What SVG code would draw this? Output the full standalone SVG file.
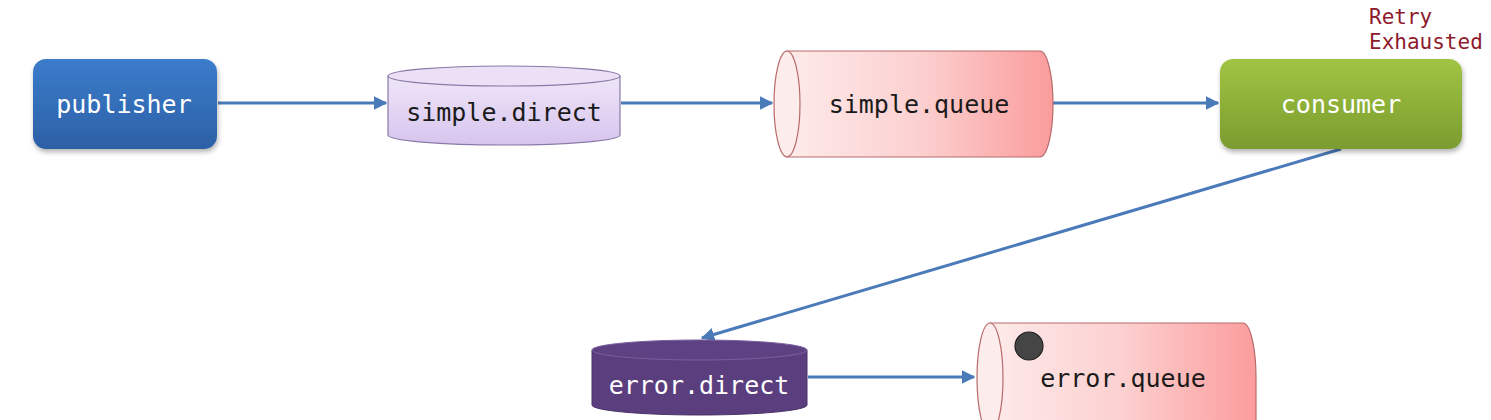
<svg xmlns="http://www.w3.org/2000/svg" width="1491" height="420" viewBox="0 0 1491 420">
<defs>
<linearGradient id="gBlue" x1="0" y1="0" x2="0" y2="1"><stop offset="0" stop-color="#3b7ccb"/><stop offset="1" stop-color="#2c60a6"/></linearGradient>
<linearGradient id="gGreen" x1="0" y1="0" x2="0" y2="1"><stop offset="0" stop-color="#a0c443"/><stop offset="1" stop-color="#7b9c2f"/></linearGradient>
<linearGradient id="gLav" x1="0" y1="0" x2="0" y2="1"><stop offset="0" stop-color="#efe6f8"/><stop offset="1" stop-color="#d7c4ee"/></linearGradient>
<linearGradient id="gPink" x1="0" y1="0" x2="1" y2="0"><stop offset="0" stop-color="#fdeaea"/><stop offset="0.5" stop-color="#fcd0d0"/><stop offset="1" stop-color="#fb9c9c"/></linearGradient>
<filter id="sh" x="-10%" y="-10%" width="130%" height="140%"><feDropShadow dx="1" dy="3" stdDeviation="2.5" flood-color="#000" flood-opacity="0.3"/></filter>
<marker id="arr" viewBox="0 0 10 10" refX="9" refY="5" markerWidth="4.5" markerHeight="4.5" orient="auto" markerUnits="strokeWidth"><path d="M0,0 L10,5 L0,10 z" fill="#4a7ab8"/></marker>
</defs>
<style>
.t{font-family:"DejaVu Sans Mono","Liberation Mono",monospace;font-size:25px;text-anchor:middle;dominant-baseline:central}
.w{fill:#ffffff}
.k{fill:#1a1a1a}
.r{font-family:"DejaVu Sans Mono","Liberation Mono",monospace;font-size:21px;fill:#8e1b2c}
.c{stroke:#4a7ab8;stroke-width:3;fill:none;marker-end:url(#arr)}
</style>
<rect width="1491" height="420" fill="#ffffff"/>
<g id="connectors">
<line class="c" x1="218" y1="103" x2="386" y2="103"/>
<line class="c" x1="621" y1="103" x2="772" y2="103"/>
<line class="c" x1="1053" y1="103" x2="1218" y2="103"/>
<line class="c" x1="1341" y1="149" x2="702" y2="338"/>
<line class="c" x1="808" y1="377" x2="974" y2="377"/>
</g>
<g id="publisher">
<rect x="33" y="59" width="184" height="90" rx="13" fill="url(#gBlue)" filter="url(#sh)"/>
<text class="t w" x="124" y="104">publisher</text>
</g>
<g id="simple-direct">
<path d="M388,76 L388,135 A116,10 0 0 0 620,135 L620,76" fill="url(#gLav)" stroke="#8a7aa8" stroke-width="1.2"/>
<ellipse cx="504" cy="76" rx="116" ry="10" fill="#ebe0f6" stroke="#8a7aa8" stroke-width="1.2"/>
<text class="t k" x="504" y="112">simple.direct</text>
</g>
<g id="simple-queue">
<path d="M787,51 L1040,51 A13,53 0 0 1 1040,157 L787,157 Z" fill="url(#gPink)" stroke="#b86a6a" stroke-width="1.2"/>
<ellipse cx="787" cy="104" rx="13" ry="53" fill="#fdecec" stroke="#b86a6a" stroke-width="1.2"/>
<text class="t k" x="919" y="104">simple.queue</text>
</g>
<g id="consumer">
<rect x="1220" y="59" width="242" height="90" rx="13" fill="url(#gGreen)" filter="url(#sh)"/>
<text class="t w" x="1341" y="104">consumer</text>
</g>
<g id="retry-label">
<text class="r" x="1369" y="24">Retry</text>
<text class="r" x="1369" y="49">Exhausted</text>
</g>
<g id="error-direct">
<path d="M592,350 L592,405 A107.5,10 0 0 0 807,405 L807,350" fill="#5b3e7e" stroke="#4a3068" stroke-width="1"/>
<ellipse cx="699.5" cy="350" rx="107.5" ry="10" fill="#5e4182" stroke="#7a5e9e" stroke-width="1"/>
<text class="t w" x="699" y="385">error.direct</text>
</g>
<g id="error-queue">
<path d="M990,323 L1243,323 A13,55 0 0 1 1256,378 L1256,440 L990,440 Z" fill="url(#gPink)" stroke="#b86a6a" stroke-width="1.2"/>
<ellipse cx="990" cy="378" rx="13" ry="55" fill="#fdecec" stroke="#b86a6a" stroke-width="1.2"/>
<circle cx="1029" cy="346" r="14" fill="#454545" stroke="#222" stroke-width="1.2"/>
<text class="t k" x="1123" y="378">error.queue</text>
</g>
</svg>
